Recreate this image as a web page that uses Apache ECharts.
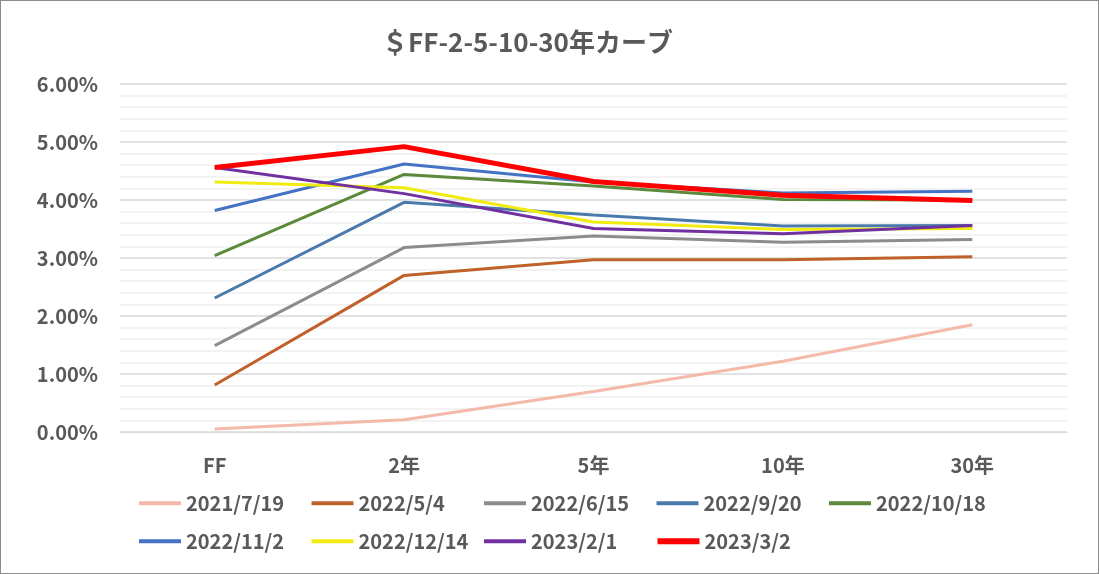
<!DOCTYPE html>
<html>
<head>
<meta charset="utf-8">
<script src="https://cdn.jsdelivr.net/npm/echarts@6/dist/echarts.min.js"></script>
<style>
html,body{margin:0;padding:0;background:#fff;}
#box{width:1097px;height:572px;border:1px solid #8c8c8c;}
</style>
</head>
<body>
<div id="box"></div>
<script>
var categories = ['FF', '2年', '5年', '10年', '30年'];
var seriesNames = ['2021/7/19', '2022/5/4', '2022/6/15', '2022/9/20', '2022/10/18',
	'2022/11/2', '2022/12/14', '2023/2/1', '2023/3/2'];
// 利回り(%)
var d20210719 = [0.05, 0.21, 0.70, 1.22, 1.85];
var d20220504 = [0.81, 2.70, 2.97, 2.97, 3.02];
var d20220615 = [1.49, 3.18, 3.38, 3.27, 3.32];
var d20220920 = [2.31, 3.96, 3.74, 3.55, 3.56];
var d20221018 = [3.04, 4.44, 4.24, 4.01, 4.00];
var d20221102 = [3.82, 4.62, 4.31, 4.12, 4.15];
var d20221214 = [4.31, 4.21, 3.62, 3.49, 3.51];
var d20230201 = [4.56, 4.11, 3.51, 3.42, 3.56];
var d20230302 = [4.56, 4.92, 4.32, 4.08, 3.99];

var values = [d20210719, d20220504, d20220615, d20220920, d20221018,
	d20221102, d20221214, d20230201, d20230302];
var colors = ['#F4B9A8', '#C0612B', '#8C8C8C', '#4A7AAB', '#5A8A3A',
	'#4472C4', '#F2EB12', '#7030A0', '#FF0000'];
var widths = [3, 3, 3, 3, 3, 3, 3, 3, 5];

var font = '"Noto Sans CJK JP", "Noto Sans", sans-serif';
var series = [];
var legendData = [];
for (var i = 0; i < seriesNames.length; i++) {
	series.push({
		name: seriesNames[i],
		type: 'line',
		symbol: 'none',
		showSymbol: false,
		smooth: false,
		lineStyle: {color: colors[i], width: widths[i]},
		itemStyle: {color: colors[i]},
		data: values[i]
	});
	legendData.push({
		name: seriesNames[i],
		lineStyle: {color: colors[i], width: widths[i] + 1}
	});
}

var mychar = echarts.init(document.getElementById('box'));
var option = {
	animation: false,
	title: {
		text: '＄FF-2-5-10-30年カーブ',
		left: 376,
		top: 23,
		textStyle: {fontFamily: font, fontSize: 26, fontWeight: 'bold', color: '#595959'}
	},
	legend: {
		data: legendData,
		left: 131,
		top: 481,
		width: 860,
		itemWidth: 42,
		itemHeight: 14,
		itemGap: 5.5,
		itemStyle: {opacity: 0},
		textStyle: {fontFamily: font, fontSize: 20, fontWeight: 'bold', color: '#595959',
			width: 118, lineHeight: 32.5}
	},
	grid: {left: 119, right: 31, top: 83, bottom: 141},
	xAxis: {
		type: 'category',
		data: categories,
		boundaryGap: true,
		axisLine: {show: true, lineStyle: {color: '#d9d9d9'}},
		axisTick: {show: false},
		axisLabel: {fontFamily: font, fontSize: 20, fontWeight: 'bold', color: '#595959', margin: 23}
	},
	yAxis: {
		type: 'value',
		min: 0,
		max: 6,
		interval: 1,
		axisLine: {show: false},
		axisTick: {show: false},
		axisLabel: {
			fontFamily: font, fontSize: 20, fontWeight: 'bold', color: '#595959', margin: 22,
			formatter: function (v) { return v.toFixed(2) + '%'; }
		},
		splitLine: {lineStyle: {color: '#d9d9d9', width: 1.5}},
		minorTick: {show: false, splitNumber: 5},
		minorSplitLine: {show: true, lineStyle: {color: '#f0f0f0', width: 1.5}}
	},
	series: series
};
mychar.setOption(option);
</script>
</body>
</html>
